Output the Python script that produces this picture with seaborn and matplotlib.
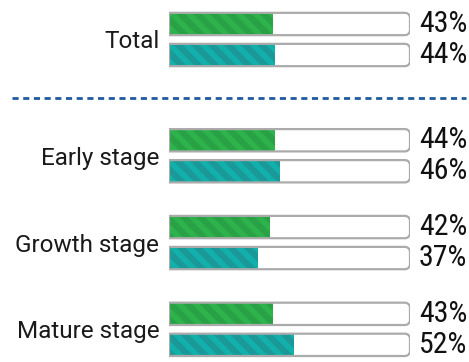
import numpy as np
import pandas as pd
import matplotlib
matplotlib.use("Agg")
import matplotlib.pyplot as plt
import seaborn as sns
from matplotlib import font_manager
from matplotlib.patches import Polygon
from matplotlib.transforms import blended_transform_factory


GROUPS = ["Total", "Early stage", "Growth stage", "Mature stage"]
SERIES = ["A", "B"]
VALUES_A = [43, 44, 42, 43]
VALUES_B = [44, 46, 37, 52]

FILL_COLORS = {"A": "#2eb34c", "B": "#12b0aa"}
STRIPE_COLORS = {"A": "#29a145", "B": "#1b9898"}
TRACK_EDGE = "#ababab"
DIVIDER_COLOR = "#1f5b9f"

FIG_W, FIG_H, DPI = 469, 362, 100
AX_LEFT_PX, AX_RIGHT_PX = 169, 410
ROW_PX = 31.0
BAR_H = 0.72


def pick_font(candidates):
    names = {f.name for f in font_manager.fontManager.ttflist}
    for name in candidates:
        if name in names:
            return name
    return "DejaVu Sans"


def rounded_track(x0, y0, w, h, rx, ry, n=8):
    # square left end, rounded right end
    t1 = np.linspace(-np.pi / 2, 0, n)
    t2 = np.linspace(0, np.pi / 2, n)
    cx = x0 + w - rx
    pts = [(x0, y0)]
    pts += [(cx + rx * np.cos(t), y0 + ry + ry * np.sin(t)) for t in t1]
    pts += [(cx + rx * np.cos(t), y0 + h - ry + ry * np.sin(t)) for t in t2]
    pts += [(x0, y0 + h)]
    return np.array(pts)


def main() -> None:
    sns.set_theme(style="white")
    plt.rcParams["hatch.linewidth"] = 4.5
    label_font = pick_font(["Roboto", "Liberation Sans", "DejaVu Sans"])
    pct_font = pick_font(["Liberation Sans Narrow", "Roboto Condensed", "Roboto"])

    # group centers; each group has two bars half a row either side
    centers = [i * 2.8 + (0.95 if i > 0 else 0.0) for i in range(len(GROUPS))]
    rows = []
    for g, c, a, b in zip(GROUPS, centers, VALUES_A, VALUES_B):
        rows.append({"group": g, "series": "A", "value": a, "pos": c - 0.5})
        rows.append({"group": g, "series": "B", "value": b, "pos": c + 0.5})
    df = pd.DataFrame(rows)
    df["track"] = 100

    fig = plt.figure(figsize=(FIG_W / DPI, FIG_H / DPI), dpi=DPI)
    ax = fig.add_axes([AX_LEFT_PX / FIG_W, 0, (AX_RIGHT_PX - AX_LEFT_PX) / FIG_W, 1])

    # white tracks (100%) behind the filled bars
    sns.barplot(data=df, x="track", y="pos", orient="h", native_scale=True,
                color="white", width=BAR_H, ax=ax, zorder=1)
    sns.barplot(data=df, x="value", y="pos", hue="series", hue_order=SERIES,
                orient="h", native_scale=True, dodge=False, palette=FILL_COLORS,
                saturation=1, width=BAR_H, ax=ax, legend=False, zorder=2)
    track_patches = list(ax.containers[0])

    top = centers[0] - 0.5 - 24 / ROW_PX
    ax.set_xlim(0, 100)
    ax.set_ylim(top + FIG_H / ROW_PX, top)

    # swap the square tracks for ones with a rounded right end
    px_per_x = (AX_RIGHT_PX - AX_LEFT_PX) / 100
    rx, ry = 5 / px_per_x, 5 / ROW_PX
    for p in track_patches:
        x0, y0, w, h = p.get_x(), p.get_y(), p.get_width(), p.get_height()
        p.set_visible(False)
        verts = rounded_track(x0, y0, w, h, rx, ry)
        ax.add_patch(Polygon(verts, closed=True, facecolor="white",
                             edgecolor="none", zorder=1))
        ax.add_patch(Polygon(verts, closed=True, facecolor="none",
                             edgecolor=TRACK_EDGE, linewidth=1.6, zorder=3))

    for key, cont in zip(SERIES, ax.containers[1:]):
        for p in cont:
            p.set_hatch("\\\\")
            p.set_edgecolor(STRIPE_COLORS[key])
            p.set_linewidth(0)

    ax.set_yticks(centers)
    ax.set_yticklabels(GROUPS, fontsize=17.5, family=label_font, color="#1a1a1a")
    ax.tick_params(axis="y", length=0, pad=7)
    ax.set_xticks([])
    ax.set_xlabel("")
    ax.set_ylabel("")
    for s in ax.spines.values():
        s.set_visible(False)
    ax.patch.set_alpha(0)

    trans = blended_transform_factory(fig.transFigure, ax.transData)
    for _, r in df.iterrows():
        ax.text(419 / FIG_W, r["pos"], f"{r['value']}%", transform=trans,
                ha="left", va="center", fontsize=21.5, family=pct_font,
                color="#111111", clip_on=False)

    div_y = (centers[0] + 0.5 + centers[1] - 0.5) / 2
    lw = 2.0
    ax.plot([12 / FIG_W, 466 / FIG_W], [div_y, div_y], transform=trans,
            color=DIVIDER_COLOR, linewidth=lw, dashes=(4.4 / lw, 3.3 / lw),
            clip_on=False, solid_capstyle="butt", dash_capstyle="butt")

    fig.savefig("out.png", dpi=DPI)
    plt.close(fig)


if __name__ == "__main__":
    main()
